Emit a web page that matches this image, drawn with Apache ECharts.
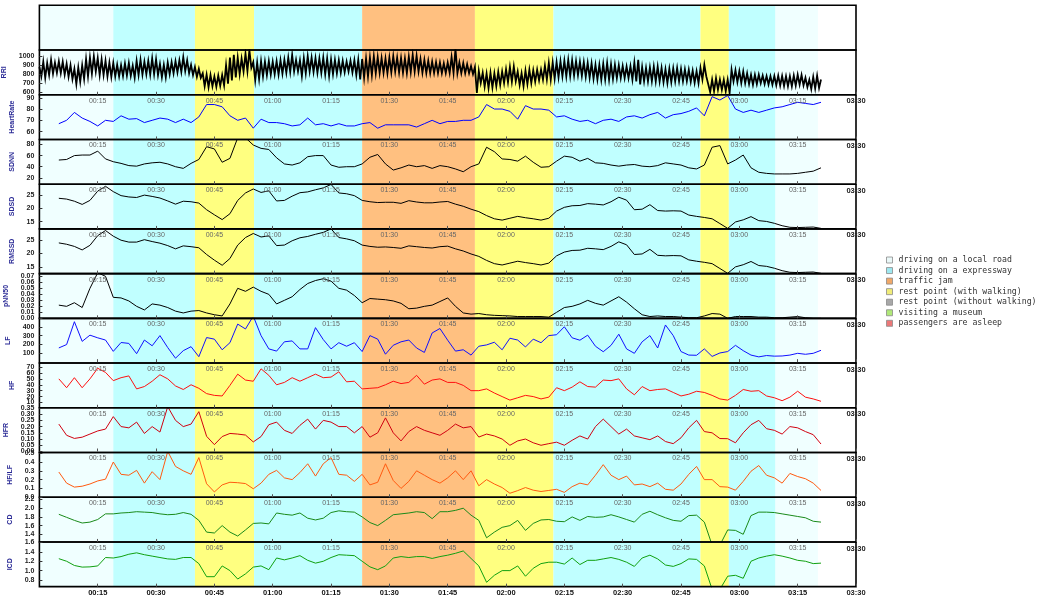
<!DOCTYPE html>
<html>
<head>
<meta charset="utf-8">
<script src="https://cdn.jsdelivr.net/npm/echarts@6/dist/echarts.min.js"></script>
<style>
  html, body { margin: 0; padding: 0; background: #fff; }
  #chart { width: 1038px; height: 599px; }
</style>
</head>
<body>
<div id="chart"></div>
<script>
// Minutes from the start of the drive at which the derived indices were sampled
const MINUTES = [
  5, 7, 9, 11, 13, 15, 17, 19, 21, 23,
  25, 27, 29, 31, 33, 35, 37, 39, 41, 43,
  45, 47, 49, 51, 53, 55, 57, 59, 61, 63,
  65, 67, 69, 71, 73, 75, 77, 79, 81, 83,
  85, 87, 89, 91, 93, 95, 97, 99, 101, 103,
  105, 107, 109, 111, 113, 115, 117, 119, 121, 123,
  125, 127, 129, 131, 133, 135, 137, 139, 141, 143,
  145, 147, 149, 151, 153, 155, 157, 159, 161, 163,
  165, 167, 169, 171, 173, 175, 177, 179, 181, 183,
  185, 187, 189, 191, 193, 195, 197, 199, 201
];

// Beat-to-beat RR interval (ms): one [first half, second half] pair per minute
const RRI_PAIRS = [
  [880,775],[940,760],[925,790],[960,805],[930,815],[945,810],[940,795],[915,770],[900,745],[860,690],
  [875,715],[900,745],[970,775],[985,805],[1000,830],[980,790],[965,790],[950,775],[930,770],[925,775],
  [905,775],[900,780],[920,785],[925,780],[895,760],[950,790],[960,795],[940,800],[950,795],[975,800],
  [965,790],[915,765],[905,765],[930,800],[935,810],[945,820],[955,825],[990,835],[955,810],[905,790],
  [880,770],[860,760],[810,665],[795,655],[790,665],[775,660],[785,670],[790,675],[900,695],[985,730],
  [1015,765],[985,800],[975,830],[1030,835],[1070,870],[935,730],[930,745],[945,775],[940,790],[945,795],
  [940,800],[945,795],[955,805],[960,815],[985,825],[1015,830],[960,830],[955,780],[980,810],[1000,830],
  [985,825],[980,815],[975,815],[985,800],[975,780],[965,800],[960,810],[955,815],[950,820],[940,830],
  [950,820],[955,790],[960,740],[970,760],[975,775],[985,790],[1000,810],[990,815],[980,815],[975,810],
  [985,820],[1000,830],[985,820],[980,815],[975,812],[995,825],[1015,830],[1005,830],[970,815],[960,812],
  [950,812],[940,812],[935,812],[930,810],[920,812],[930,815],[990,815],[1080,812],[930,812],[925,810],
  [910,810],[890,800],[880,590],[835,700],[815,660],[805,645],[815,650],[810,665],[825,680],[830,700],
  [855,710],[880,715],[885,720],[830,680],[810,665],[840,690],[850,700],[845,715],[850,730],[850,738],
  [895,740],[925,738],[930,750],[935,765],[945,775],[950,776],[960,778],[955,785],[945,790],[940,780],
  [935,770],[925,760],[920,750],[905,742],[905,738],[915,740],[925,738],[910,745],[905,755],[900,757],
  [890,757],[885,757],[890,740],[930,720],[960,685],[880,720],[870,720],[875,722],[885,720],[885,720],
  [870,710],[855,702],[860,710],[865,720],[869,720],[860,720],[855,722],[850,715],[840,705],[832,700],
  [870,740],[905,775],[760,600],[740,610],[755,626],[740,626],[738,610],[738,590],[850,720],[845,712],
  [835,702],[830,700],[810,690],[794,682],[794,690],[794,700],[785,690],[778,684],[776,682],[780,676],
  [783,671],[780,668],[778,665],[776,663],[785,672],[794,682],[790,675],[760,655],[738,633],[770,640],
  [783,645]
];
const RRI_LAST = 740;

const HEART_RATE = [
  67, 70, 77, 72, 69, 65, 70, 69, 74, 71,
  71.5, 68, 70, 72, 71, 68, 71, 68, 73, 84,
  84, 82, 74, 70, 72, 63, 71, 68, 68, 67,
  65, 66, 72, 66, 67, 65, 67, 65, 65, 67,
  68, 63, 66, 66, 66, 66, 64, 67, 70, 67,
  69, 69, 70, 70, 73, 84, 80, 80, 78, 71,
  83, 80, 80, 79, 73, 74, 71, 69, 70, 67,
  70, 71, 69, 73, 74, 72, 75, 77, 72, 75,
  76, 78, 81, 74, 91, 88, 92, 80, 77, 79,
  77, 79, 81, 82, 84, 86, 85, 84, 86
];

const SDNN = [
  52, 53, 60, 61, 61, 68, 54, 49, 46, 42,
  41, 45, 47, 48, 45, 40, 37, 46, 53, 76,
  72, 48, 55, 92, 92, 79, 73, 71, 56, 45,
  43, 47, 58, 60, 60, 43, 39, 40, 40, 45,
  57, 62, 45, 34, 38, 43, 40, 42, 37, 42,
  40, 36, 31, 40, 45, 75, 67, 54, 53, 50,
  59, 48, 39, 40, 50, 59, 57, 50, 55, 47,
  46, 43, 41, 43, 44, 41, 40, 42, 47, 45,
  43, 38, 36, 43, 75, 78, 45, 52, 61, 38,
  30, 28, 27, 27, 27, 28, 30, 32, 38
];

const SDSD = [
  23.8, 23.5, 22.7, 21.5, 23, 26.5, 28.3, 26.3, 24.8, 24.3,
  24.1, 25, 24.5, 23.9, 22.8, 21.6, 22.7, 22.5, 22, 19.5,
  17.6, 15.8, 18, 23, 25.8, 27.3, 26, 26.6, 22.8, 23,
  24.6, 25.9, 26.2, 27, 27.7, 29, 25.8, 25.5, 24.8, 23,
  22.5, 22.2, 22.3, 22.3, 21.9, 22.9, 22.4, 22.1, 22.1, 22.4,
  22.6, 21.6, 20.8, 19.7, 18.8, 17.3, 16.1, 15.6, 16.3, 17,
  16.5, 16.1, 15.6, 16.3, 19, 20.4, 21, 21.1, 21.8, 21.6,
  21.3, 22.5, 24.2, 23.1, 19.5, 19.7, 21.4, 19.2, 19, 19.1,
  19, 17.5, 17, 16.6, 16.1, 14.3, 12.5, 14.9, 15.7, 16.9,
  15.4, 15.1, 14.4, 13.5, 12.9, 12.8, 12.9, 13, 12.5
];

const RMSSD = [
  23.9, 23.4, 22.6, 21.3, 23, 26.6, 28.5, 26.4, 24.9, 24.2,
  24.2, 25.1, 24.4, 23.8, 22.9, 21.7, 22.8, 22.5, 22.1, 19.6,
  17.5, 15.6, 18.1, 23.1, 25.9, 27.4, 26.1, 26.5, 22.9, 23.1,
  24.7, 25.8, 26.3, 27.1, 27.8, 29.1, 25.9, 25.4, 24.7, 23.1,
  22.6, 22.3, 22.4, 22.2, 21.9, 22.8, 22.5, 22.2, 22, 22.5,
  22.7, 21.7, 20.9, 19.8, 18.9, 17.4, 16.2, 15.7, 16.4, 17.1,
  16.6, 16.2, 15.7, 16.4, 19.1, 20.5, 21.1, 21.2, 21.9, 21.7,
  21.4, 22.6, 24.3, 23.2, 19.6, 19.8, 21.5, 19.3, 19.1, 19.2,
  19.1, 17.6, 17.1, 16.7, 16.2, 14.4, 12.6, 15, 15.8, 17,
  15.5, 15.2, 14.5, 13.6, 13, 12.9, 13, 13.1, 12.6
];

const PNN50 = [
  0.022, 0.02, 0.026, 0.018, 0.05, 0.076, 0.07, 0.035, 0.034, 0.029,
  0.02, 0.014, 0.024, 0.022, 0.018, 0.012, 0.009, 0.012, 0.013, 0.009,
  0.006, 0.004, 0.024, 0.05, 0.045, 0.052, 0.045, 0.04, 0.024, 0.03,
  0.036, 0.048, 0.058, 0.063, 0.066, 0.062, 0.05, 0.047, 0.038, 0.026,
  0.033, 0.032, 0.031, 0.029, 0.025, 0.016, 0.017, 0.02, 0.022, 0.028,
  0.034, 0.02, 0.009, 0.007, 0.008, 0.006, 0.005, 0.0045, 0.004, 0.003,
  0.003, 0.003, 0.003, 0.002, 0.01, 0.018, 0.02, 0.024, 0.03, 0.025,
  0.022, 0.029, 0.036, 0.027, 0.016, 0.006, 0.003, 0.004, 0.003, 0.003,
  0.002, 0.001, 0.001, 0.004, 0.008, 0.007, 0, 0.003, 0.003, 0.003,
  0.002, 0.002, 0.001, 0.001, 0.002, 0.003, 0.001, 0, 0
];

const LF = [
  161, 199, 457, 235, 305, 275, 250, 122, 222, 212,
  96, 250, 185, 300, 165, 45, 130, 175, 62, 278,
  260, 140, 220, 430, 375, 520, 300, 150, 125, 230,
  240, 150, 150, 390, 255, 150, 220, 180, 220, 120,
  300, 260, 90, 191, 230, 250, 160, 110, 330, 380,
  248, 125, 140, 80, 180, 195, 225, 140, 270, 250,
  172, 260, 220, 300, 310, 400, 275, 248, 305, 180,
  118, 190, 316, 150, 100, 230, 300, 160, 420, 300,
  120, 80, 78, 150, 65, 104, 120, 190, 130, 80,
  60, 75, 68, 70, 80, 100, 89, 100, 134
];

const HF = [
  50, 35, 52, 35, 50, 68, 61, 47, 52, 55,
  33, 37, 46, 57, 50, 38, 32, 40, 34, 25,
  22, 21, 39, 58, 48, 46, 67, 56, 40, 44,
  52, 46, 52, 58, 52, 53, 62, 45, 46, 33,
  34, 35, 40, 46, 42, 44, 56, 41, 48, 50,
  44, 44, 39, 30, 30, 33, 26, 20, 14, 18,
  22, 20, 16, 19, 35, 30, 36, 45, 37, 36,
  48, 47, 50, 33, 23, 37, 30, 32, 33, 27,
  21, 24, 29, 27, 22, 16, 14, 22, 32, 29,
  30, 21, 18, 13, 19, 29, 19, 16, 12
];

const HFR = [
  0.22, 0.13, 0.105, 0.115, 0.14, 0.165, 0.18, 0.28, 0.2, 0.19,
  0.236, 0.145, 0.2, 0.156, 0.36, 0.25, 0.2, 0.22, 0.32, 0.122,
  0.055, 0.12, 0.145, 0.14, 0.132, 0.077, 0.12, 0.215, 0.236, 0.17,
  0.145, 0.21, 0.26, 0.18, 0.25, 0.236, 0.2, 0.2, 0.15, 0.2,
  0.115, 0.15, 0.27, 0.15, 0.085, 0.16, 0.2, 0.17, 0.15, 0.13,
  0.17, 0.22, 0.19, 0.2, 0.116, 0.14, 0.125, 0.1, 0.05, 0.085,
  0.1, 0.07, 0.05, 0.063, 0.075, 0.05, 0.09, 0.125, 0.1, 0.2,
  0.26, 0.2, 0.14, 0.18, 0.125, 0.11, 0.095, 0.125, 0.08, 0.063,
  0.11, 0.19, 0.25, 0.16, 0.15, 0.104, 0.103, 0.07, 0.15, 0.215,
  0.25, 0.183, 0.17, 0.14, 0.2, 0.19, 0.16, 0.135, 0.06
];

const HF_LF = [
  0.286, 0.16, 0.115, 0.125, 0.15, 0.185, 0.205, 0.4, 0.26, 0.25,
  0.305, 0.16, 0.29, 0.2, 0.52, 0.35, 0.3, 0.26, 0.45, 0.153,
  0.06, 0.14, 0.17, 0.165, 0.155, 0.096, 0.16, 0.26, 0.305, 0.22,
  0.2, 0.28, 0.38, 0.24, 0.38, 0.45, 0.26, 0.25, 0.18, 0.26,
  0.14, 0.17, 0.38, 0.19, 0.1, 0.18, 0.3, 0.25, 0.2, 0.16,
  0.22, 0.3, 0.2, 0.3, 0.13, 0.2, 0.15, 0.11, 0.045, 0.075,
  0.11, 0.08, 0.065, 0.077, 0.09, 0.055, 0.12, 0.16, 0.14, 0.25,
  0.37, 0.25, 0.2, 0.24, 0.14, 0.15, 0.12, 0.16, 0.09, 0.08,
  0.15, 0.26, 0.35, 0.2, 0.2, 0.12, 0.115, 0.08, 0.18, 0.295,
  0.36, 0.25, 0.22, 0.16, 0.27, 0.235, 0.21, 0.16, 0.077
];

const CD = [
  1.86, 1.79, 1.72, 1.66, 1.68, 1.74, 1.87, 1.87, 1.89, 1.9,
  1.92, 1.91, 1.9, 1.87, 1.85, 1.86, 1.9, 1.86, 1.72, 1.45,
  1.43, 1.6, 1.45, 1.36, 1.5, 1.65, 1.66, 1.64, 1.89, 1.86,
  1.84, 1.89, 1.77, 1.73, 1.77, 1.9, 1.94, 1.92, 1.91, 1.8,
  1.67, 1.6, 1.72, 1.85, 1.87, 1.89, 1.92, 1.9, 1.76, 1.92,
  1.92, 1.95, 2.0, 1.84, 1.72, 1.32, 1.45, 1.56, 1.6, 1.72,
  1.49, 1.65, 1.73, 1.74, 1.7, 1.69, 1.8, 1.72, 1.81, 1.79,
  1.8, 1.85, 1.8, 1.74, 1.68, 1.86, 1.93, 1.85, 1.78, 1.72,
  1.7, 1.83, 1.84, 1.68, 1.15, 1.15, 1.5, 1.49, 1.4, 1.83,
  1.91, 1.91, 1.9, 1.87, 1.84, 1.81, 1.78, 1.7, 1.68
];

const ICD = [
  1.255, 1.2, 1.11, 1.075, 1.08, 1.1, 1.28, 1.27, 1.3, 1.35,
  1.38, 1.34, 1.31, 1.28, 1.25, 1.24, 1.28, 1.28, 1.15, 0.87,
  0.87, 1.1, 1.0, 0.82, 0.93, 1.075, 1.1, 1.02, 1.27, 1.23,
  1.27, 1.32, 1.22, 1.16, 1.2, 1.28, 1.34, 1.33, 1.32, 1.2,
  1.08, 1.02, 1.1, 1.27, 1.3, 1.28, 1.3, 1.3, 1.26, 1.3,
  1.33, 1.37, 1.42, 1.26, 1.1, 0.75, 0.9, 1.0, 1.0, 1.1,
  0.88, 1.05, 1.15, 1.18, 1.18, 1.14, 1.27, 1.13, 1.22, 1.22,
  1.25, 1.28, 1.24, 1.18, 1.09, 1.27, 1.33, 1.25, 1.12, 1.09,
  1.15, 1.25, 1.24, 1.1, 0.6, 0.6, 0.88, 0.9, 0.836, 1.2,
  1.27, 1.31, 1.34, 1.31, 1.27, 1.22, 1.2, 1.15, 1.16
];

// Activity periods (minutes) and what was happening
const BAND_START = [0, 19, 40, 55.2, 83, 112, 132.2, 170, 177.3, 189.3];
const BAND_END   = [19, 40, 55.2, 83, 112, 132.2, 170, 177.3, 189.3, 200.2];
const BAND_KIND  = [0, 1, 3, 1, 2, 3, 1, 3, 1, 0];

const ACTIVITY_NAMES = [
  'driving on a local road',
  'driving on a expressway',
  'traffic jam',
  'rest point (with walking)',
  'rest point (without walking)',
  'visiting a museum',
  'passengers are asleep'
];
const ACTIVITY_COLORS = ['#f0ffff', '#c0ffff', '#ffc080', '#ffff80', '#c0c0c0', '#c0ff80', '#ff8080'];
const LEGEND_COLORS   = ['#eaf8f8', '#9ee8f0', '#f0a868', '#f0ec78', '#a8a8a8', '#b0e878', '#ec7878'];

// Y-axis tick values per panel
const RRI_TICKS = [600, 700, 800, 900, 1000];
const HR_TICKS = [60, 70, 80, 90];
const SDNN_TICKS = [20, 40, 60, 80];
const SDSD_TICKS = [15, 20, 25];
const RMSSD_TICKS = [15, 20, 25];
const PNN50_TICKS = [0, 0.01, 0.02, 0.03, 0.04, 0.05, 0.06, 0.07];
const LF_TICKS = [100, 200, 300, 400];
const HF_TICKS = [10, 20, 30, 40, 50, 60, 70];
const HFR_TICKS = [0, 0.05, 0.1, 0.15, 0.2, 0.25, 0.3, 0.35];
const HFLF_TICKS = [0, 0.1, 0.2, 0.3, 0.4, 0.5];
const CD_TICKS = [1.4, 1.6, 1.8, 2.0, 2.2];
const ICD_TICKS = [0.8, 1.0, 1.2, 1.4, 1.6];

// ---- build ----
const rriPoints = [];
RRI_PAIRS.forEach(function (p, m) {
  rriPoints.push([m, p[0]]);
  rriPoints.push([m + 0.5, p[1]]);
});
rriPoints.push([RRI_PAIRS.length, RRI_LAST]);

function onTimeline(values) {
  return MINUTES.map(function (m, k) { return [m, values[k]]; });
}

const PANELS = [
  { name: 'RRI',       data: rriPoints,             color: '#000000', width: 1.8, min: 570,    max: 1070,  ticks: RRI_TICKS,   digits: 0 },
  { name: 'HeartRate', data: onTimeline(HEART_RATE), color: '#0000ff', width: 1,   min: 53,     max: 92.7,  ticks: HR_TICKS,    digits: 0 },
  { name: 'SDNN',      data: onTimeline(SDNN),       color: '#000000', width: 1,   min: 8.6,    max: 89,    ticks: SDNN_TICKS,  digits: 0 },
  { name: 'SDSD',      data: onTimeline(SDSD),       color: '#000000', width: 1,   min: 12.3,   max: 29.1,  ticks: SDSD_TICKS,  digits: 0 },
  { name: 'RMSSD',     data: onTimeline(RMSSD),      color: '#000000', width: 1,   min: 12.5,   max: 29.1,  ticks: RMSSD_TICKS, digits: 0 },
  { name: 'pNN50',     data: onTimeline(PNN50),      color: '#000000', width: 1,   min: 0,      max: 0.0745, ticks: PNN50_TICKS, digits: 2 },
  { name: 'LF',        data: onTimeline(LF),         color: '#1010ff', width: 1,   min: -10,    max: 495,   ticks: LF_TICKS,    digits: 0 },
  { name: 'HF',        data: onTimeline(HF),         color: '#ff1010', width: 1,   min: 1,      max: 76.8,  ticks: HF_TICKS,    digits: 0 },
  { name: 'HFR',       data: onTimeline(HFR),        color: '#d00010', width: 1,   min: -0.008, max: 0.351, ticks: HFR_TICKS,   digits: 2 },
  { name: 'HF/LF',     data: onTimeline(HF_LF),      color: '#ff5a10', width: 1,   min: 0,      max: 0.508, ticks: HFLF_TICKS,  digits: 1 },
  { name: 'CD',        data: onTimeline(CD),         color: '#1a8a1a', width: 1,   min: 1.224,  max: 2.253, ticks: CD_TICKS,    digits: 1 },
  { name: 'ICD',       data: onTimeline(ICD),        color: '#10a010', width: 1,   min: 0.657,  max: 1.613, ticks: ICD_TICKS,   digits: 1 }
];

const GRID_LEFT = 39.4, GRID_RIGHT = 182, GRID_TOP = 5.3, ROW_H = 44.72;
const PANEL_COUNT = PANELS.length + 1; // activity strip + index panels
const FONT = '"Liberation Sans", Arial, sans-serif';

const bandData = BAND_START.map(function (s, k) { return [s, BAND_END[k], BAND_KIND[k]]; });

function hhmm(v) {
  const h = Math.floor(v / 60), m = v % 60;
  return (h < 10 ? '0' : '') + h + ':' + (m < 10 ? '0' : '') + m;
}

function labelStyle(values, digits) {
  return {
    customValues: values, margin: 5, hideOverlap: false,
    showMinLabel: true, showMaxLabel: true,
    fontFamily: FONT, fontSize: 7, fontWeight: 'bold', color: '#222',
    formatter: function (v) { return Number(v).toFixed(digits); }
  };
}

const grids = [], xAxes = [], yAxes = [], extraYAxes = [], series = [];

for (let i = 0; i < PANEL_COUNT; i++) {
  const p = i === 0 ? null : PANELS[i - 1];
  const last = i === PANEL_COUNT - 1;
  grids.push({
    left: GRID_LEFT, right: GRID_RIGHT, top: GRID_TOP + i * ROW_H, height: ROW_H,
    show: true, backgroundColor: 'transparent', borderColor: '#000', borderWidth: 1.6,
    z: 5, outerBoundsMode: 'none', containLabel: false
  });
  xAxes.push({
    type: 'value', gridIndex: i, min: 0, max: 210, interval: 15, z: 6,
    axisLine: { show: false },
    splitLine: { show: false },
    axisTick: { show: i > 0, inside: true, length: 3, lineStyle: { color: '#555', width: 1 } },
    axisLabel: {
      show: i > 0, showMinLabel: false, showMaxLabel: true, margin: 2.5, hideOverlap: false,
      fontFamily: FONT, fontSize: last ? 7.5 : 7,
      fontWeight: last ? 'bold' : 'normal',
      color: last ? '#111' : '#666',
      formatter: function (v) { return v === 210 ? '{e|' + hhmm(v) + '}' : hhmm(v); },
      rich: { e: { fontFamily: FONT, fontSize: 7.5, fontWeight: 'bold', color: '#222' } }
    }
  });
  if (!p) {
    yAxes.push({ type: 'value', gridIndex: i, min: 0, max: 1, show: false });
  } else {
    // closely spaced tick labels are split over two coincident axes so none gets dropped
    const evenTicks = p.ticks.filter(function (v, k) { return k % 2 === 0; });
    const oddTicks = p.ticks.filter(function (v, k) { return k % 2 === 1; });
    yAxes.push({
      type: 'value', gridIndex: i, position: 'left', offset: 0, min: p.min, max: p.max, z: 6,
      name: p.name, nameLocation: 'middle', nameGap: 24, nameRotate: 90,
      nameTextStyle: { color: '#2b2b96', fontWeight: 'bold', fontSize: 7, fontFamily: FONT },
      axisLine: { show: false },
      splitLine: { show: false },
      axisTick: { show: true, inside: true, length: 3, customValues: p.ticks, lineStyle: { color: '#333' } },
      axisLabel: labelStyle(evenTicks, p.digits)
    });
    extraYAxes.push({
      type: 'value', gridIndex: i, position: 'left', offset: 0, min: p.min, max: p.max, z: 6,
      axisLine: { show: false },
      splitLine: { show: false },
      axisTick: { show: false },
      axisLabel: labelStyle(oddTicks, p.digits)
    });
  }
  // activity background
  series.push({
    type: 'custom', xAxisIndex: i, yAxisIndex: i, z: 1, silent: true,
    data: bandData,
    encode: { x: [0, 1], y: 2 },
    renderItem: function (params, api) {
      const a = api.coord([api.value(0), 0]);
      const b = api.coord([api.value(1), 0]);
      const cs = params.coordSys;
      return {
        type: 'rect',
        shape: { x: a[0], y: cs.y, width: b[0] - a[0], height: cs.height },
        style: { fill: ACTIVITY_COLORS[api.value(2)] }
      };
    }
  });
  if (p) {
    series.push({
      type: 'line', name: p.name, xAxisIndex: i, yAxisIndex: i, z: 3,
      data: p.data, showSymbol: false, symbol: 'none', clip: true,
      lineStyle: { color: p.color, width: p.width, join: 'miter' },
      emphasis: { disabled: true }
    });
  }
}

// legend of activities
const LEGEND_X = 886.5, LEGEND_Y = 260, LEGEND_STEP = 10.55;
const graphic = ACTIVITY_NAMES.map(function (name, k) {
  return {
    type: 'group', x: LEGEND_X, y: LEGEND_Y + k * LEGEND_STEP,
    children: [
      { type: 'rect', shape: { x: 0, y: -3, width: 6, height: 6 },
        style: { fill: LEGEND_COLORS[k], stroke: '#8a8a8a', lineWidth: 0.8 } },
      { type: 'text', x: 12, y: 0,
        style: { text: name, fill: '#333', font: '8.2px "DejaVu Sans Mono", monospace',
                 verticalAlign: 'middle', align: 'left' } }
    ]
  };
});

const chart = echarts.init(document.getElementById('chart'), null, { renderer: 'canvas' });
chart.setOption({
  animation: false,
  backgroundColor: '#ffffff',
  grid: grids,
  xAxis: xAxes,
  yAxis: yAxes.concat(extraYAxes),
  series: series,
  graphic: graphic
});
</script>
</body>
</html>
